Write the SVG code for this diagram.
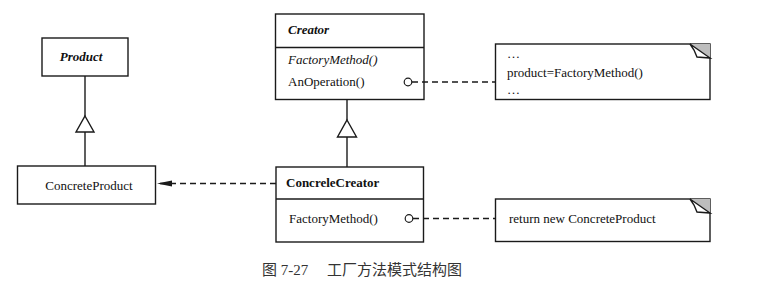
<svg xmlns="http://www.w3.org/2000/svg" width="763" height="301" viewBox="0 0 763 301">
<defs>
<style>
.box{fill:#fff;stroke:#1a1a1a;stroke-width:1.4}
.ln{fill:none;stroke:#1a1a1a;stroke-width:1.4}
.dash{fill:none;stroke:#1a1a1a;stroke-width:1.3;stroke-dasharray:6 4}
.t{font-family:"Liberation Serif","Times New Roman",serif;font-size:13px;fill:#111}
.bi{font-weight:bold;font-style:italic}
.b{font-weight:bold}
.i{font-style:italic}
.circ{fill:#fff;stroke:#1a1a1a;stroke-width:1.2}
.tri{fill:#fff;stroke:#1a1a1a;stroke-width:1.4}
.cap{font-family:"Liberation Serif","Noto Sans CJK SC",serif;font-size:15px;fill:#333}
</style>
<marker id="arr" markerWidth="16" markerHeight="8" refX="15" refY="4" orient="auto" markerUnits="userSpaceOnUse">
<path d="M0,1 L15,4 L0,7 Z" fill="#1a1a1a"/>
</marker>
</defs>
<rect width="763" height="301" fill="#fff"/>
<g id="product">
<rect class="box" x="42" y="38" width="86" height="38"/>
<text class="t bi" x="81" y="61" text-anchor="middle">Product</text>
</g>
<g id="concreteproduct">
<rect class="box" x="17.5" y="166" width="138" height="38"/>
<text class="t" x="89" y="190" text-anchor="middle">ConcreteProduct</text>
</g>
<g id="creator">
<rect class="box" x="275.5" y="14" width="148.5" height="85.5"/>
<line class="ln" x1="275.5" y1="47.5" x2="424" y2="47.5"/>
<text class="t bi" x="288" y="34">Creator</text>
<text class="t i" x="288" y="64">FactoryMethod()</text>
<text class="t" x="288" y="86">AnOperation()</text>
</g>
<g id="concretecreator">
<rect class="box" x="276" y="167" width="147.5" height="75"/>
<line class="ln" x1="276" y1="199" x2="423.5" y2="199"/>
<text class="t b" x="286" y="187">ConcreleCreator</text>
<text class="t" x="289" y="223">FactoryMethod()</text>
</g>
<g id="note1">
<rect class="box" x="495.5" y="44" width="214.5" height="55.5"/>
<polygon points="690,44 710,44 710,58" fill="#bdbdbd"/>
<path class="ln" d="M690,44 L710,58 L697,57 L694,50 Z" fill="#fff" stroke-width="1"/>
<text class="t" x="507" y="58">…</text>
<text class="t" x="507" y="77">product=FactoryMethod()</text>
<text class="t" x="507" y="94">…</text>
</g>
<g id="note2">
<rect class="box" x="495.5" y="199" width="214.5" height="42.5"/>
<polygon points="690,199 710,199 710,213" fill="#bdbdbd"/>
<path class="ln" d="M690,199 L710,213 L697,212 L694,205 Z" fill="#fff" stroke-width="1"/>
<text class="t" x="509" y="223">return new ConcreteProduct</text>
</g>
<g id="connectors">
<line class="ln" x1="85" y1="76" x2="85" y2="116"/>
<polygon class="tri" points="85,116 94,132 76,132"/>
<line class="ln" x1="85" y1="132" x2="85" y2="166"/>
<line class="ln" x1="347" y1="99.5" x2="347" y2="120"/>
<polygon class="tri" points="347,120 356.5,137 337.5,137"/>
<line class="ln" x1="347" y1="137" x2="347" y2="167"/>
<line class="dash" x1="276" y1="183.5" x2="157" y2="183.5" marker-end="url(#arr)"/>
<line class="dash" x1="412" y1="82" x2="495" y2="82"/>
<circle class="circ" cx="408" cy="82" r="3.8"/>
<line class="dash" x1="413" y1="218.5" x2="495" y2="218.5"/>
<circle class="circ" cx="409" cy="218.5" r="3.8"/>
</g>
<g id="caption">
<text class="cap" x="262" y="275" xml:space="preserve">图 7-27     工厂方法模式结构图</text>
</g>
</svg>
